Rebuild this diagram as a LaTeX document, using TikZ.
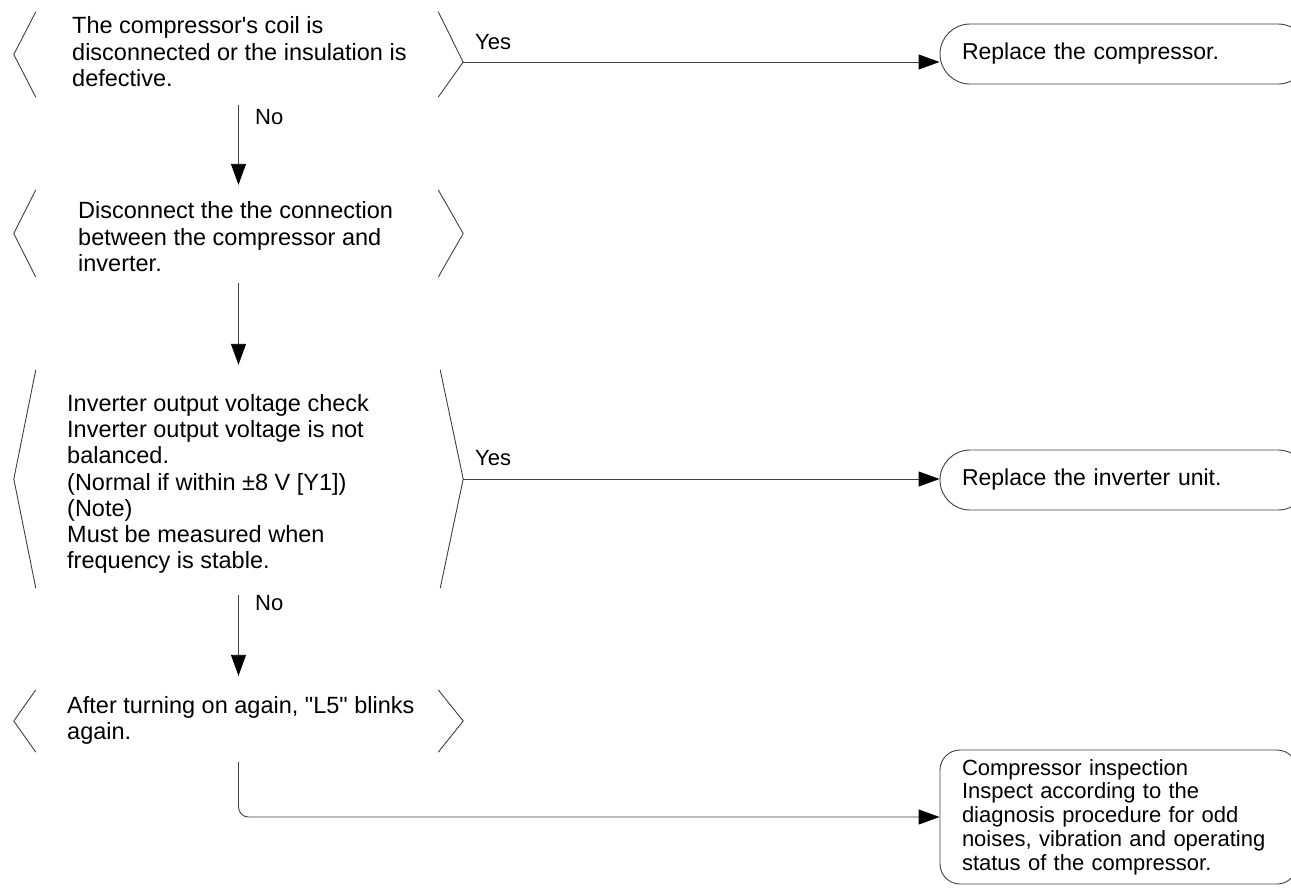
\documentclass[tikz,border=0pt]{standalone}
\usepackage{fontspec}
\setmainfont{Liberation Sans}[Ligatures=TeXOff]
\usetikzlibrary{arrows.meta,calc}
\begin{document}
\begin{tikzpicture}[x=1pt,y=-1pt,
  line/.style={draw=black!75, line width=0.9pt},
  arr/.style={line, -{Triangle[length=21pt,width=15pt,color=black]}},
  decbox/.style={minimum width=449pt, inner sep=0pt, draw=none},
  dtext/.style={anchor=west, align=left, inner sep=0pt, font=\fontsize{23.5}{26.5}\selectfont},
  term/.style={line, rounded corners=30pt, minimum width=368pt, minimum height=60pt, text width=324pt, align=left, inner xsep=22pt, inner ysep=0pt, font=\fontsize{23}{26.5}\selectfont},
  lbl/.style={anchor=west, inner sep=0pt, font=\fontsize{22}{26}\selectfont}
]
\useasboundingbox (0,0) rectangle (1291,887);
\clip (0,0) rectangle (1291,887);

% decision regions
\node[decbox, minimum height=85pt] (d1) at (238.5,54.5) {};
\node[decbox, minimum height=87pt] (d2) at (238.5,233.5) {};
\node[decbox, minimum height=218pt] (d3) at (238.5,479) {};
\node[decbox, minimum height=62pt] (d4) at (238.5,721) {};
\coordinate (d1r) at ($(d1.east)+(0,7.5)$);

% brackets
\draw[line] ($(d1.north west)+(22,0)$) -- (d1.west) -- ($(d1.south west)+(22,0)$);
\draw[line] ($(d1.north east)+(-25,0)$) -- (d1r) -- ($(d1.south east)+(-25,0)$);
\draw[line] ($(d2.north west)+(22,0)$) -- (d2.west) -- ($(d2.south west)+(22,0)$);
\draw[line] ($(d2.north east)+(-25,0)$) -- (d2.east) -- ($(d2.south east)+(-25,0)$);
\draw[line] ($(d3.north west)+(22,0)$) -- (d3.west) -- ($(d3.south west)+(22,0)$);
\draw[line] ($(d3.north east)+(-23,0)$) -- (d3.east) -- ($(d3.south east)+(-23,0)$);
\draw[line] ($(d4.north west)+(22,0)$) -- (d4.west) -- ($(d4.south west)+(22,0)$);
\draw[line] ($(d4.north east)+(-25,0)$) -- (d4.east) -- ($(d4.south east)+(-25,0)$);

% decision texts
\node[dtext] (d1t) at (72,52) {The compressor's coil is\\disconnected or the insulation is\\defective.};
\node[dtext] (d2t) at (78,237) {Disconnect the the connection\\between the compressor and\\inverter.};
\node[dtext, font=\fontsize{23.5}{26.3}\selectfont] (d3t) at (67,484) {Inverter output voltage check\\Inverter output voltage is not\\balanced.\\(Normal if within ±8 V [Y1])\\(Note)\\Must be measured when\\frequency is stable.};
\node[dtext] (d4t) at (67,720.5) {After turning on again, "L5" blinks\\again.};

% terminals
\node[term] (t1) at (1124,54) {Replace the compressor.};
\node[term] (t2) at (1124,480) {Replace the inverter unit.};
\node[term, rounded corners=20pt, minimum width=357pt, text width=313pt, minimum height=134pt, font=\fontsize{22}{23.8}\selectfont] (t3) at (1118.5,817) {Compressor inspection\\Inspect according to the\\diagnosis procedure for odd\\noises, vibration and operating\\status of the compressor.};

% labels
\node[lbl] (y1) at (475,42) {Yes};
\node[lbl] (y2) at (475,458) {Yes};
\node[lbl] (n1) at (255,117) {No};
\node[lbl] (n2) at (255,603) {No};

% connectors
\draw[arr] (d1r) -- (d1r -| t1.west);
\draw[arr] (d3.east) -- (d3.east -| t2.west);
\draw[arr, shorten <=8pt, shorten >=5pt] (d1.south) -- (d2.north);
\draw[arr, shorten <=6pt, shorten >=5pt] (d2.south) -- (d3.north);
\draw[arr, shorten <=7pt, shorten >=14pt] (d3.south) -- (d4.north);
\draw[arr, rounded corners=10pt, shorten <=10pt] (d4.south) |- (t3.west);
\end{tikzpicture}
\end{document}
